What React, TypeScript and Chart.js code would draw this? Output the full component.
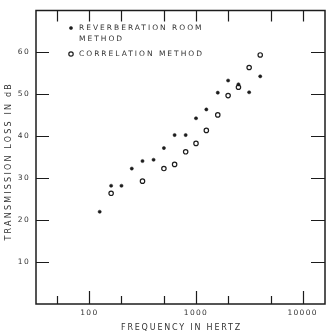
import React, { useEffect, useRef } from "react";
import { Chart, registerables } from "chart.js";

Chart.register(...registerables);

// Reverberation-room measurements (frequency in Hz, transmission loss in dB)
const FREQ_REVERB = [125, 160, 200, 250, 315, 400, 500, 630, 800, 1000, 1250, 1600, 2000, 2500, 3150, 4000];
const TL_REVERB = [22.0, 28.2, 28.2, 32.3, 34.1, 34.4, 37.2, 40.3, 40.3, 44.3, 46.4, 50.4, 53.3, 52.4, 50.5, 54.3];

// Correlation-method measurements
const FREQ_CORR = [160, 315, 500, 630, 800, 1000, 1250, 1600, 2000, 2500, 3150, 4000];
const TL_CORR = [26.4, 29.3, 32.3, 33.3, 36.3, 38.3, 41.4, 45.1, 49.7, 51.7, 56.4, 59.4];

const X_LABELED = [100, 1000, 10000];
const X_MINOR = [50, 200, 500, 2000, 5000];
const Y_TICKS = [10, 20, 30, 40, 50, 60];

const LEGEND_REVERB = ["REVERBERATION ROOM", "METHOD"];
const LEGEND_CORR = ["CORRELATION METHOD"];
const X_TITLE = "FREQUENCY IN HERTZ";
const Y_TITLE = "TRANSMISSION LOSS IN dB";

const INK = "#1c1c1c";
const TEXT = "#333333";
const FONT = "'DejaVu Sans', sans-serif";

const framePlugin = {
  id: "frame",
  beforeDraw(chart: any) {
    const ctx = chart.ctx;
    (ctx as any).letterSpacing = "1.3px";
  },
  afterDraw(chart: any) {
    const ctx = chart.ctx;
    const { left, right, top, bottom } = chart.chartArea;
    const xs = chart.scales.x;
    const ys = chart.scales.y;
    ctx.save();
    ctx.strokeStyle = INK;
    ctx.lineWidth = 1.5;
    ctx.strokeRect(left, top, right - left, bottom - top);

    ctx.lineWidth = 1.2;
    ctx.beginPath();
    // x ticks: long at decades, short in between, inward from bottom and top
    for (const v of [...X_LABELED, ...X_MINOR]) {
      const px = Math.round(xs.getPixelForValue(v)) + 0.5;
      const len = X_LABELED.includes(v) ? 13 : 8;
      ctx.moveTo(px, bottom);
      ctx.lineTo(px, bottom - len);
      ctx.moveTo(px, top);
      ctx.lineTo(px, top + 11);
    }
    // y ticks, inward from both sides
    for (const v of Y_TICKS) {
      const py = Math.round(ys.getPixelForValue(v)) + 0.5;
      ctx.moveTo(left, py);
      ctx.lineTo(left + 13, py);
      ctx.moveTo(right, py);
      ctx.lineTo(right - 14, py);
    }
    ctx.stroke();

    // axis titles
    ctx.fillStyle = TEXT;
    ctx.font = `8px ${FONT}`;
    ctx.textAlign = "center";
    ctx.textBaseline = "alphabetic";
    (ctx as any).letterSpacing = "1.8px";
    ctx.fillText(X_TITLE, (left + right) / 2 + 1, 329.5);
    (ctx as any).letterSpacing = "2.2px";
    ctx.save();
    ctx.translate(10.5, (top + bottom) / 2 + 4);
    ctx.rotate(-Math.PI / 2);
    ctx.fillText(Y_TITLE, 0, 0);
    ctx.restore();

    // legend
    (ctx as any).letterSpacing = "2px";
    ctx.font = `7.5px ${FONT}`;
    ctx.textAlign = "left";
    ctx.textBaseline = "middle";
    const ds = chart.data.datasets;
    const lx = left + 35;
    const tx = left + 43;
    const drawMarker = (d: any, y: number) => {
      ctx.beginPath();
      ctx.arc(lx, y, d.pointRadius, 0, Math.PI * 2);
      ctx.fillStyle = d.pointBackgroundColor;
      ctx.fill();
      ctx.lineWidth = d.pointBorderWidth;
      ctx.strokeStyle = d.pointBorderColor;
      ctx.stroke();
    };
    drawMarker(ds[0], 28);
    ctx.fillStyle = TEXT;
    ctx.fillText(LEGEND_REVERB[0], tx, 28);
    ctx.fillText(LEGEND_REVERB[1], tx, 39);
    drawMarker(ds[1], 54);
    ctx.fillStyle = TEXT;
    ctx.fillText(LEGEND_CORR[0], tx, 54);
    (ctx as any).letterSpacing = "0px";
    ctx.restore();
  },
};

export default function App() {
  const ref = useRef<HTMLCanvasElement | null>(null);

  useEffect(() => {
    document.body.style.margin = "0";
    const canvas = ref.current;
    if (!canvas) return;
    const chart = new Chart(canvas, {
      type: "scatter",
      data: {
        datasets: [
          {
            label: LEGEND_REVERB.join(" "),
            data: FREQ_REVERB.map((f, i) => ({ x: f, y: TL_REVERB[i] })),
            pointRadius: 1.6,
            pointBackgroundColor: INK,
            pointBorderColor: INK,
            pointBorderWidth: 0.5,
          },
          {
            label: LEGEND_CORR[0],
            data: FREQ_CORR.map((f, i) => ({ x: f, y: TL_CORR[i] })),
            pointRadius: 2.2,
            pointBackgroundColor: "#ffffff",
            pointBorderColor: INK,
            pointBorderWidth: 1.2,
          },
        ],
      },
      options: {
        responsive: false,
        animation: false,
        devicePixelRatio: 1,
        layout: { padding: { top: 5, right: 6, left: 0, bottom: 0 } },
        plugins: {
          legend: { display: false },
          tooltip: { enabled: false },
        },
        scales: {
          x: {
            type: "logarithmic",
            min: 31.6,
            max: 16200,
            grid: { display: false, drawTicks: false },
            border: { display: false },
            afterFit: (s: any) => {
              s.height = 30;
            },
            afterBuildTicks: (s: any) => {
              s.ticks = X_LABELED.map((v) => ({ value: v }));
            },
            ticks: {
              autoSkip: false,
              maxRotation: 0,
              padding: 5,
              color: TEXT,
              font: { family: FONT, size: 7.5 },
              callback: (v: any) => String(v),
            },
          },
          y: {
            type: "linear",
            min: 0,
            max: 70,
            grid: { display: false, drawTicks: false },
            border: { display: false },
            afterFit: (s: any) => {
              s.width = 36;
            },
            afterBuildTicks: (s: any) => {
              s.ticks = Y_TICKS.map((v) => ({ value: v }));
            },
            ticks: {
              padding: 6,
              color: TEXT,
              font: { family: FONT, size: 7.5 },
              callback: (v: any) => String(v),
            },
          },
        },
      },
      plugins: [framePlugin],
    });
    return () => chart.destroy();
  }, []);

  return (
    <div style={{ position: "fixed", left: 0, top: 0, width: 331, height: 334, background: "#fff" }}>
      <canvas ref={ref} width={331} height={334} style={{ display: "block" }} />
    </div>
  );
}
